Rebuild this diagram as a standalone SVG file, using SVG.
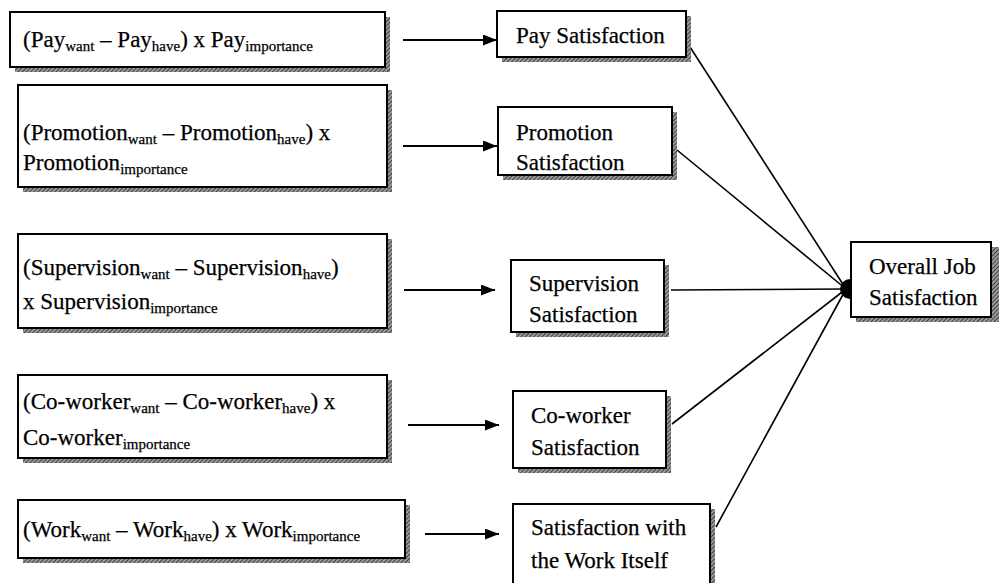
<svg xmlns="http://www.w3.org/2000/svg" width="999" height="583" viewBox="0 0 999 583" font-family="'Liberation Serif', serif">
  <style>
    .box { fill: #ffffff; stroke: #000000; stroke-width: 2; }
    .shadow { fill: url(#hatch); }
    text { font-family: "Liberation Serif", serif; font-size: 23px; fill: #000000; stroke: #000000; stroke-width: 0.25; }
    .s { font-size: 15px; }
    .edge { stroke: #000000; stroke-width: 1.6; fill: none; }
    .flow { stroke: #000000; stroke-width: 2; fill: none; }
  </style>
  <defs>
    <pattern id="hatch" patternUnits="userSpaceOnUse" width="3" height="3" patternTransform="rotate(45)">
      <rect width="3" height="3" fill="#9a9a9a"/>
      <line x1="0" y1="0" x2="0" y2="3" stroke="#2a2a2a" stroke-width="1.6"/>
    </pattern>
    <marker id="arrow" viewBox="0 0 14 11" refX="14" refY="5.5" markerWidth="14" markerHeight="11" markerUnits="userSpaceOnUse" orient="auto">
      <path d="M0,0 L14,5.5 L0,11 Z" fill="#000000"/>
    </marker>
  </defs>

  <!-- connectors -->
  <g id="connectors">
    <line class="flow" x1="403" y1="40" x2="497" y2="40" marker-end="url(#arrow)"/>
    <line class="flow" x1="403" y1="146" x2="497" y2="146" marker-end="url(#arrow)"/>
    <line class="flow" x1="404" y1="290" x2="495" y2="290" marker-end="url(#arrow)"/>
    <line class="flow" x1="408" y1="425" x2="499" y2="425" marker-end="url(#arrow)"/>
    <line class="flow" x1="425" y1="534" x2="499" y2="534" marker-end="url(#arrow)"/>

    <line class="edge" x1="690" y1="47" x2="846" y2="289"/>
    <line class="edge" x1="677" y1="150" x2="846" y2="289"/>
    <line class="edge" x1="671" y1="290" x2="846" y2="289"/>
    <line class="edge" x1="672" y1="424" x2="846" y2="289"/>
    <line class="edge" x1="716" y1="527" x2="846" y2="289"/>
    <circle cx="850" cy="289" r="10" fill="#000000"/>
  </g>

  <!-- computed discrepancy terms -->
  <g id="pay-term">
    <rect class="shadow" x="15" y="17" width="375" height="55"/>
    <rect class="box" x="10" y="12" width="375" height="55"/>
    <text x="23" y="47">(Pay<tspan class="s" dy="4">want</tspan><tspan dy="-4"> – Pay</tspan><tspan class="s" dy="4">have</tspan><tspan dy="-4">) x Pay</tspan><tspan class="s" dy="4">importance</tspan></text>
  </g>
  <g id="promotion-term">
    <rect class="shadow" x="23" y="90" width="369" height="102"/>
    <rect class="box" x="18" y="85" width="369" height="102"/>
    <text x="23" y="140">(Promotion<tspan class="s" dy="4">want</tspan><tspan dy="-4"> – Promotion</tspan><tspan class="s" dy="4">have</tspan><tspan dy="-4">) x</tspan></text>
    <text x="23" y="170">Promotion<tspan class="s" dy="4">importance</tspan></text>
  </g>
  <g id="supervision-term">
    <rect class="shadow" x="23" y="239" width="369" height="94"/>
    <rect class="box" x="18" y="234" width="369" height="94"/>
    <text x="23" y="275">(Supervision<tspan class="s" dy="4">want</tspan><tspan dy="-4"> – Supervision</tspan><tspan class="s" dy="4">have</tspan><tspan dy="-4">)</tspan></text>
    <text x="23" y="309">x Supervision<tspan class="s" dy="4">importance</tspan></text>
  </g>
  <g id="coworker-term">
    <rect class="shadow" x="23" y="380" width="369" height="83"/>
    <rect class="box" x="18" y="375" width="369" height="83"/>
    <text x="23" y="409">(Co-worker<tspan class="s" dy="4">want</tspan><tspan dy="-4"> – Co-worker</tspan><tspan class="s" dy="4">have</tspan><tspan dy="-4">) x</tspan></text>
    <text x="23" y="445">Co-worker<tspan class="s" dy="4">importance</tspan></text>
  </g>
  <g id="work-term">
    <rect class="shadow" x="23" y="505" width="387" height="58"/>
    <rect class="box" x="18" y="500" width="387" height="58"/>
    <text x="23" y="537">(Work<tspan class="s" dy="4">want</tspan><tspan dy="-4"> – Work</tspan><tspan class="s" dy="4">have</tspan><tspan dy="-4">) x Work</tspan><tspan class="s" dy="4">importance</tspan></text>
  </g>

  <!-- facet satisfaction -->
  <g id="pay-satisfaction">
    <rect class="shadow" x="502" y="16" width="189" height="46"/>
    <rect class="box" x="497" y="11" width="189" height="46"/>
    <text x="516" y="43">Pay Satisfaction</text>
  </g>
  <g id="promotion-satisfaction">
    <rect class="shadow" x="503" y="112" width="174" height="68"/>
    <rect class="box" x="498" y="107" width="174" height="68"/>
    <text x="516" y="140">Promotion</text>
    <text x="516" y="170">Satisfaction</text>
  </g>
  <g id="supervision-satisfaction">
    <rect class="shadow" x="516" y="265" width="153" height="72"/>
    <rect class="box" x="511" y="260" width="153" height="72"/>
    <text x="529" y="291">Supervision</text>
    <text x="529" y="322">Satisfaction</text>
  </g>
  <g id="coworker-satisfaction">
    <rect class="shadow" x="518" y="396" width="153" height="77"/>
    <rect class="box" x="513" y="391" width="153" height="77"/>
    <text x="531" y="423">Co-worker</text>
    <text x="531" y="455">Satisfaction</text>
  </g>
  <g id="work-satisfaction">
    <rect class="shadow" x="518" y="509" width="197" height="90"/>
    <rect class="box" x="513" y="504" width="197" height="90"/>
    <text x="531" y="535">Satisfaction with</text>
    <text x="531" y="568">the Work Itself</text>
  </g>

  <!-- outcome -->
  <g id="overall-satisfaction">
    <rect class="shadow" x="856" y="247" width="143" height="75"/>
    <rect class="box" x="851" y="242" width="140" height="75"/>
    <text x="869" y="274">Overall Job</text>
    <text x="869" y="305">Satisfaction</text>
  </g>
</svg>
